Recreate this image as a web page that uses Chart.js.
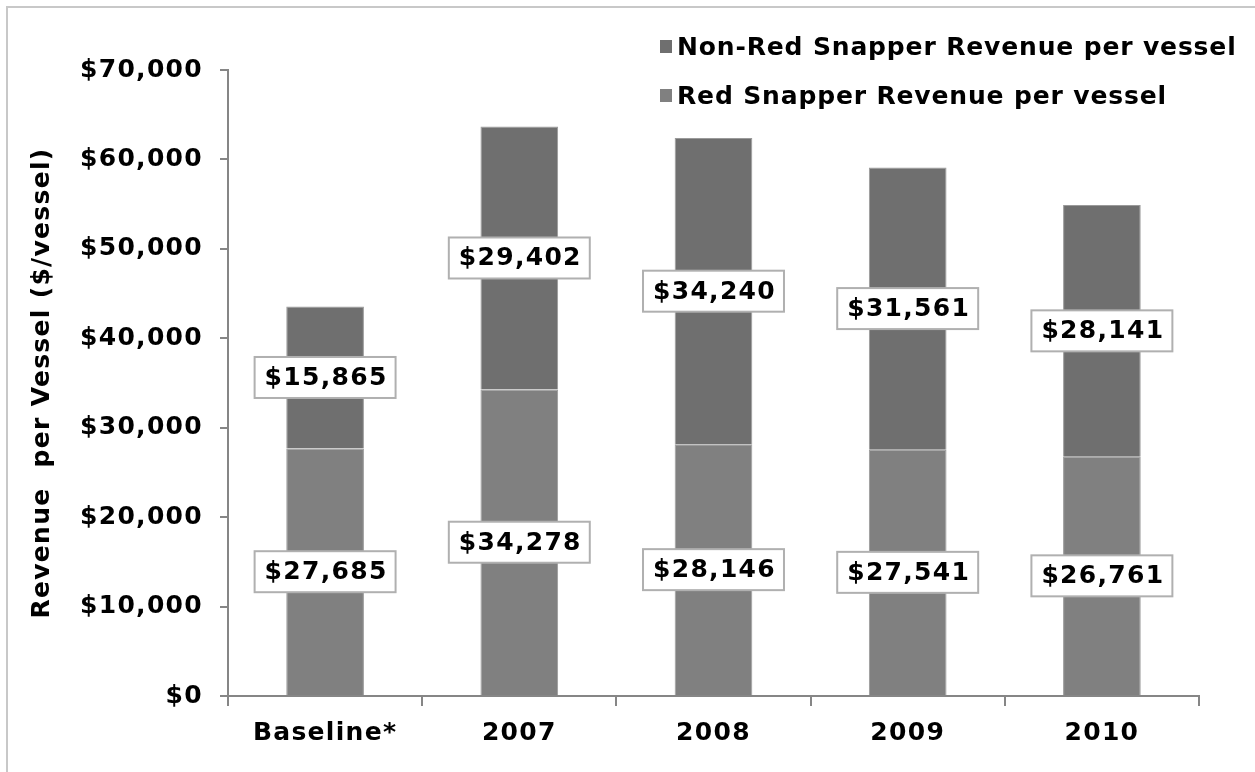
<!DOCTYPE html>
<html>
<head>
<meta charset="utf-8">
<script src="https://cdn.jsdelivr.net/npm/chart.js@4.4.1/dist/chart.umd.min.js"></script>
<style>
  html, body { margin: 0; padding: 0; background: #fff; }
  #wrap { width: 1255px; height: 772px; }
</style>
</head>
<body>
<div id="wrap"><canvas id="chart" width="1255" height="772"></canvas></div>
<script>
const categories = ['Baseline*', '2007', '2008', '2009', '2010'];
const redSnapper = [27685, 34278, 28146, 27541, 26761];
const nonRedSnapper = [15865, 29402, 34240, 31561, 28141];
const seriesNames = ['Red Snapper Revenue per vessel', 'Non-Red Snapper Revenue per vessel'];
const seriesColors = ['#808080', '#6f6f6f'];

const FONT = "'DejaVu Sans', Verdana, sans-serif";
const SPACING = '1.3px';

function money(v) {
    return '$' + v.toLocaleString('en-US');
}

// the original font is wider than DejaVu, so open the letters a bit
const spacing = {
    id: 'spacing',
    beforeUpdate(chart) { chart.ctx.letterSpacing = SPACING; },
    beforeDraw(chart) { chart.ctx.letterSpacing = SPACING; }
};

// white boxed value labels in the middle of each segment
const boxLabels = {
    id: 'boxLabels',
    afterDatasetsDraw(chart) {
        const ctx = chart.ctx;
        ctx.save();
        ctx.letterSpacing = SPACING;
        ctx.font = 'bold 25px ' + FONT;
        ctx.textAlign = 'center';
        ctx.textBaseline = 'middle';
        chart.data.datasets.forEach((ds, di) => {
            const meta = chart.getDatasetMeta(di);
            meta.data.forEach((bar, i) => {
                const p = bar.getProps(['x', 'y', 'base'], true);
                const cy = (p.y + p.base) / 2;
                const txt = money(ds.data[i]);
                const w = ctx.measureText(txt).width + 18;
                const h = 41;
                ctx.fillStyle = '#ffffff';
                ctx.fillRect(p.x - w / 2, cy - h / 2, w, h);
                ctx.strokeStyle = '#b0b0b0';
                ctx.lineWidth = 2;
                ctx.strokeRect(p.x - w / 2, cy - h / 2, w, h);
                ctx.fillStyle = '#000';
                ctx.fillText(txt, p.x + 1, cy + 1);
            });
        });
        ctx.restore();
    }
};

// legend stacked at the top right, drawn over the plot
const stackLegend = {
    id: 'stackLegend',
    afterDraw(chart) {
        const ctx = chart.ctx;
        ctx.save();
        ctx.letterSpacing = '0.85px';
        ctx.font = 'bold 25px ' + FONT;
        ctx.textAlign = 'left';
        ctx.textBaseline = 'alphabetic';
        const rows = [1, 0];
        rows.forEach((di, r) => {
            const ds = chart.data.datasets[di];
            const base = 55 + r * 49;
            ctx.fillStyle = ds.backgroundColor;
            ctx.fillRect(660, base - 15, 12, 13);
            ctx.fillStyle = '#000';
            ctx.fillText(ds.label, 677, base);
        });
        ctx.restore();
    }
};

// light frame round the picture
const frame = {
    id: 'frame',
    beforeDraw(chart) {
        const ctx = chart.ctx;
        ctx.save();
        ctx.strokeStyle = '#c8c8c8';
        ctx.lineWidth = 2;
        ctx.beginPath();
        ctx.moveTo(7, chart.height);
        ctx.lineTo(7, 7);
        ctx.lineTo(chart.width, 7);
        ctx.stroke();
        ctx.restore();
    }
};

new Chart(document.getElementById('chart').getContext('2d'), {
    type: 'bar',
    data: {
        labels: categories,
        datasets: [
            {
                label: seriesNames[0],
                data: redSnapper,
                backgroundColor: seriesColors[0],
                borderColor: '#9a9a9a',
                borderWidth: 1
            },
            {
                label: seriesNames[1],
                data: nonRedSnapper,
                backgroundColor: seriesColors[1],
                borderColor: '#9a9a9a',
                borderWidth: 1
            }
        ]
    },
    options: {
        responsive: false,
        animation: false,
        layout: { padding: { top: 70, right: 56, bottom: 0, left: 0 } },
        datasets: {
            bar: { barPercentage: 1, categoryPercentage: 0.4 }
        },
        scales: {
            x: {
                stacked: true,
                offset: true,
                grid: {
                    offset: true,
                    drawOnChartArea: false,
                    drawTicks: true,
                    tickLength: 10,
                    color: '#868686',
                    lineWidth: 2
                },
                border: { color: '#868686', width: 2 },
                ticks: {
                    color: '#000',
                    padding: 12,
                    font: { family: FONT, size: 25, weight: 'bold' }
                },
                afterFit(scale) { scale.height = 76; }
            },
            y: {
                stacked: true,
                min: 0,
                max: 70000,
                grid: {
                    drawOnChartArea: false,
                    drawTicks: true,
                    tickLength: 8,
                    color: '#868686',
                    lineWidth: 2
                },
                border: { color: '#868686', width: 2 },
                ticks: {
                    stepSize: 10000,
                    color: '#000',
                    padding: 17,
                    font: { family: FONT, size: 25, weight: 'bold' },
                    callback: (v) => money(v)
                },
                title: {
                    display: true,
                    text: 'Revenue  per Vessel ($/vessel)',
                    color: '#000',
                    padding: { top: 27, bottom: 0 },
                    font: { family: FONT, size: 25, weight: 'bold' }
                },
                afterFit(scale) { scale.width = 228; }
            }
        },
        plugins: {
            legend: { display: false },
            tooltip: { enabled: false }
        }
    },
    plugins: [spacing, frame, boxLabels, stackLegend]
});
</script>
</body>
</html>
